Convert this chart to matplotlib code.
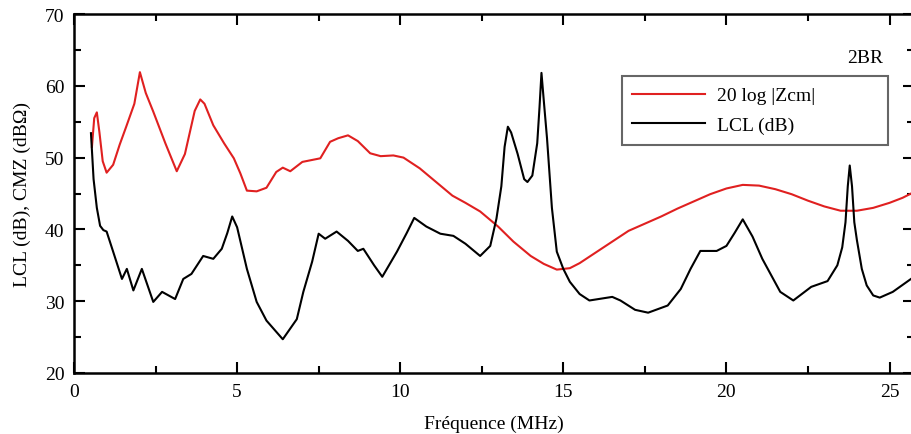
import matplotlib.pyplot as plt
from matplotlib.ticker import MultipleLocator

# 20 log |Zcm| (red)
zcm_f = [0.55, 0.62, 0.7, 0.78, 0.88, 1.0, 1.2, 1.4, 1.6, 1.85, 2.02, 2.2, 2.43,
         2.8, 3.15, 3.4, 3.7, 3.87, 4.0, 4.27, 4.6, 4.9, 5.1, 5.3, 5.6, 5.9,
         6.2, 6.4, 6.63, 7.0, 7.55, 7.85, 8.1, 8.4, 8.7, 9.08, 9.4, 9.79, 10.1,
         10.6, 11.1, 11.6, 12.0, 12.45, 13.0, 13.47, 14.0, 14.4, 14.8, 15.2,
         15.5, 16.0, 16.5, 17.0, 17.5, 18.0, 18.5, 19.0, 19.5, 20.0, 20.5, 21.0,
         21.5, 22.0, 22.5, 23.0, 23.5, 24.0, 24.5, 25.0, 25.4, 25.75]
zcm_db = [51.5, 55.5, 56.3, 53.5, 49.5, 47.9, 49.0, 51.8, 54.3, 57.5, 61.9, 59.0,
          56.4, 52.0, 48.1, 50.5, 56.5, 58.1, 57.5, 54.5, 52.0, 49.9, 47.8, 45.4,
          45.3, 45.8, 48.0, 48.6, 48.1, 49.4, 49.9, 52.2, 52.7, 53.1, 52.3, 50.6,
          50.2, 50.3, 50.0, 48.5, 46.6, 44.7, 43.7, 42.5, 40.4, 38.3, 36.3, 35.2,
          34.4, 34.6, 35.3, 36.8, 38.3, 39.8, 40.8, 41.8, 42.9, 43.9, 44.9, 45.7,
          46.2, 46.1, 45.6, 44.9, 44.0, 43.2, 42.6, 42.6, 43.0, 43.7, 44.4, 45.2]

# LCL (black)
lcl_f = [0.52, 0.55, 0.6, 0.7, 0.8, 0.9, 1.0, 1.2, 1.47, 1.62, 1.82, 2.08, 2.43,
         2.7, 3.1, 3.35, 3.6, 3.96, 4.27, 4.53, 4.7, 4.85, 5.0, 5.3, 5.6, 5.9,
         6.4, 6.83, 7.03, 7.3, 7.5, 7.7, 8.05, 8.4, 8.7, 8.87, 9.2, 9.45, 9.9,
         10.2, 10.43, 10.8, 11.23, 11.63, 12.0, 12.45, 12.76, 12.95, 13.1, 13.2,
         13.3, 13.4, 13.6, 13.8, 13.9, 14.05, 14.2, 14.27, 14.33, 14.4, 14.5,
         14.65, 14.8, 15.0, 15.2, 15.5, 15.8, 16.5, 16.75, 17.2, 17.6, 18.2,
         18.6, 18.9, 19.2, 19.7, 20.0, 20.25, 20.5, 20.8, 21.1, 21.65, 22.05,
         22.6, 23.1, 23.4, 23.55, 23.65, 23.72, 23.78, 23.85, 23.92, 24.0,
         24.15, 24.3, 24.5, 24.7, 25.1, 25.75]
lcl_db = [53.4, 51.0, 47.0, 43.0, 40.5, 39.9, 39.7, 36.9, 33.1, 34.5, 31.5, 34.5,
          29.9, 31.3, 30.3, 33.1, 33.8, 36.3, 35.9, 37.3, 39.5, 41.8, 40.3, 34.5,
          29.9, 27.3, 24.7, 27.5, 31.3, 35.5, 39.4, 38.7, 39.7, 38.4, 37.0, 37.3,
          35.0, 33.4, 36.9, 39.5, 41.6, 40.4, 39.4, 39.1, 38.0, 36.3, 37.7, 41.5,
          46.0, 51.5, 54.3, 53.5, 50.5, 47.0, 46.6, 47.5, 52.0, 57.0, 61.8, 58.0,
          52.7, 43.0, 36.9, 34.5, 32.7, 31.0, 30.1, 30.6, 30.1, 28.8, 28.4,
          29.4, 31.7, 34.5, 37.0, 37.0, 37.7, 39.5, 41.4, 39.0, 35.9, 31.3, 30.1,
          32.0, 32.8, 35.0, 37.5, 41.0, 46.0, 48.9, 46.0, 41.0, 38.5, 34.5, 32.2,
          30.8, 30.5, 31.3, 33.4]

plt.rcParams["font.family"] = ["Liberation Serif", "DejaVu Serif"]

fig = plt.figure(figsize=(9.12, 4.35), dpi=100)
ax = fig.add_axes([74 / 912, 61 / 435, 840 / 912, 359 / 435])

ax.plot(zcm_f, zcm_db, color="#e02020", lw=1.5, label="20 log |Zcm|")
ax.plot(lcl_f, lcl_db, color="black", lw=1.5, label="LCL (dB)")

ax.set_xlim(0, 25.75)
ax.set_ylim(20, 70)
ax.xaxis.set_major_locator(MultipleLocator(5))
ax.xaxis.set_minor_locator(MultipleLocator(2.5))
ax.yaxis.set_major_locator(MultipleLocator(10))
ax.yaxis.set_minor_locator(MultipleLocator(5))
ax.tick_params(which="both", direction="in", top=True, right=True, labelsize=14,
               width=1.5, pad=7)
ax.tick_params(which="major", length=8)
ax.tick_params(which="minor", length=5)
for s in ax.spines.values():
    s.set_linewidth(1.8)
ax.spines["right"].set_visible(False)

ax.set_xlabel("Fréquence (MHz)", fontsize=14, labelpad=11)
ax.set_ylabel("LCL (dB), CMZ (dBΩ)", fontsize=14, labelpad=10)

ax.text(0.963, 0.88, "2BR", transform=ax.transAxes, ha="right", va="center",
        fontsize=14)
leg = ax.legend(loc="upper left", bbox_to_anchor=(0.652, 0.641, 0.317, 0.186),
                mode="expand", borderaxespad=0, fontsize=14, frameon=True,
                fancybox=False, edgecolor="#404040", handlelength=3.75,
                handletextpad=0.6, borderpad=0.55, labelspacing=0.62)
leg.get_frame().set_linewidth(1.5)

fig.savefig("out.png", dpi=100)
